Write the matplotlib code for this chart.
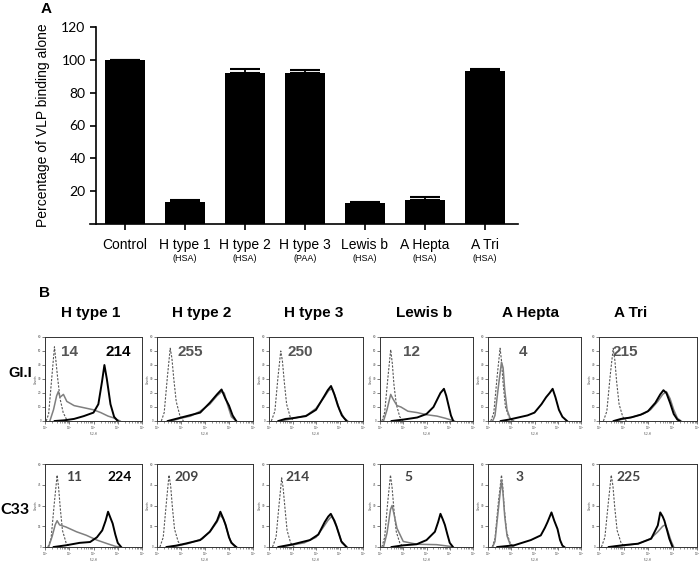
import numpy as np
import matplotlib
matplotlib.use("Agg")
import matplotlib.pyplot as plt
from matplotlib.ticker import LogLocator, NullFormatter, FixedLocator

# ---------------- panel A data ----------------
categories = ["Control", "H type 1", "H type 2", "H type 3", "Lewis b", "A Hepta", "A Tri"]
carriers = ["", "(HSA)", "(HSA)", "(PAA)", "(HSA)", "(HSA)", "(HSA)"]
binding = [100, 13.5, 91.8, 92.2, 12.9, 14.7, 93.3]
binding_err = [0, 1.0, 2.5, 1.5, 0.4, 1.6, 1.2]

# ---------------- panel B data ----------------
glycans = ["H type 1", "H type 2", "H type 3", "Lewis b", "A Hepta", "A Tri"]
strains = ["GI.I", "C33"]
gi_numbers = ["14", "255", "250", "12", "4", "215"]
c33_numbers = ["11", "209", "214", "5", "3", "225"]
# second (black) number only in the H type 1 panels
gi_extra = "214"
c33_extra = "224"

# curves: (log10 FL2-H, counts)
gi_dash = [
    [(0.05, 0), (0.15, 5), (0.27, 29), (0.39, 53), (0.45, 43), (0.52, 31), (0.62, 16), (0.75, 6), (0.92, 0)],
    [(0.18, 0), (0.3, 6), (0.43, 31), (0.55, 52), (0.62, 45), (0.7, 30), (0.8, 14), (0.95, 4), (1.1, 0)],
    [(0.1, 0), (0.25, 7), (0.38, 31), (0.5, 50), (0.57, 43), (0.65, 28), (0.75, 12), (0.9, 3), (1.05, 0)],
    [(0.08, 0), (0.2, 6), (0.34, 31), (0.46, 51), (0.53, 41), (0.6, 26), (0.7, 12), (0.85, 3), (1.0, 0)],
    [(0.12, 0), (0.25, 6), (0.4, 33), (0.52, 52), (0.58, 43), (0.65, 27), (0.75, 10), (0.9, 3), (1.05, 0)],
    [(0.18, 0), (0.32, 7), (0.46, 33), (0.58, 52), (0.65, 43), (0.72, 28), (0.82, 12), (0.97, 3), (1.12, 0)],
]
gi_gray = [
    [(0.2, 0), (0.35, 8), (0.48, 18), (0.55, 21), (0.62, 17), (0.76, 19), (0.9, 14), (1.2, 11), (1.6, 9.5),
     (2.0, 8), (2.3, 6), (2.6, 3.5), (2.8, 2.4), (3.1, 0)],
    [(0.6, 0), (1.0, 2), (1.4, 3.5), (1.8, 7), (2.2, 12), (2.5, 18), (2.7, 21), (2.8, 20), (2.95, 11), (3.1, 3), (3.3, 0)],
    [(0.5, 0), (0.8, 1), (1.2, 2.5), (1.6, 4), (2.0, 9), (2.35, 17), (2.55, 22), (2.7, 23), (2.85, 16), (3.0, 8),
     (3.2, 2), (3.35, 0)],
    [(0.15, 0), (0.3, 8), (0.46, 19), (0.55, 16), (0.73, 11), (0.9, 10), (1.2, 7), (1.6, 6), (2.0, 4.5), (2.45, 3.5),
     (2.8, 2), (3.0, 1), (3.2, 0)],
    [(0.2, 0), (0.3, 4), (0.45, 25), (0.58, 42), (0.65, 38), (0.72, 22), (0.82, 8), (0.95, 2), (1.1, 0)],
    [(0.7, 0), (1.0, 1.5), (1.4, 3), (1.8, 5), (2.1, 8), (2.4, 14), (2.6, 19), (2.75, 21), (2.9, 16), (3.05, 8),
     (3.2, 2), (3.35, 0)],
]
gi_black = [
    [(0.4, 0), (0.8, 0.5), (1.2, 1.5), (1.6, 3.5), (2.0, 6), (2.2, 12), (2.35, 28), (2.45, 40), (2.55, 30), (2.7, 12),
     (2.85, 3), (3.0, 0)],
    [(0.45, 0), (0.9, 2), (1.24, 3.5), (1.8, 6), (2.2, 13), (2.5, 19), (2.69, 22.5), (2.85, 16), (3.0, 11), (3.15, 4),
     (3.3, 0)],
    [(0.4, 0), (0.7, 1.5), (1.0, 2), (1.57, 3.5), (2.0, 8), (2.36, 18), (2.5, 22), (2.64, 25), (2.78, 19), (2.93, 11),
     (3.1, 4), (3.3, 0)],
    [(0.5, 0), (1.0, 1), (1.6, 2.5), (2.0, 5), (2.3, 10), (2.45, 15), (2.6, 20), (2.75, 23), (2.85, 18), (2.95, 11),
     (3.05, 4), (3.15, 0)],
    [(0.55, 0), (0.9, 1), (1.3, 2.5), (1.7, 4), (2.0, 6), (2.3, 12), (2.5, 17), (2.65, 20), (2.78, 23), (2.9, 17),
     (3.05, 8), (3.2, 3), (3.4, 0)],
    [(0.6, 0), (0.9, 1.5), (1.3, 2.5), (1.7, 4.5), (2.0, 7), (2.3, 13), (2.5, 19), (2.63, 22), (2.75, 20), (2.9, 13),
     (3.05, 5), (3.2, 1), (3.3, 0)],
]
c33_dash = [
    [(0.12, 0), (0.25, 6), (0.38, 31), (0.5, 52), (0.56, 43), (0.63, 28), (0.72, 12), (0.87, 3), (1.02, 0)],
    [(0.12, 0), (0.26, 7), (0.39, 32), (0.5, 52), (0.57, 44), (0.64, 29), (0.73, 13), (0.88, 4), (1.04, 0)],
    [(0.15, 0), (0.3, 7), (0.43, 31), (0.54, 50), (0.6, 43), (0.68, 28), (0.77, 12), (0.92, 3), (1.07, 0)],
    [(0.08, 0), (0.2, 7), (0.33, 32), (0.45, 52), (0.52, 43), (0.6, 27), (0.7, 11), (0.85, 3), (1.0, 0)],
    [(0.18, 0), (0.3, 6), (0.45, 33), (0.58, 52), (0.63, 45), (0.7, 28), (0.8, 11), (0.95, 3), (1.1, 0)],
    [(0.1, 0), (0.24, 7), (0.38, 32), (0.5, 52), (0.57, 44), (0.64, 29), (0.74, 12), (0.9, 3), (1.05, 0)],
]
c33_gray = [
    [(0.15, 0), (0.3, 8), (0.42, 16), (0.5, 19), (0.6, 16), (0.86, 14.5), (1.3, 11), (1.7, 8.5), (2.14, 5),
     (2.57, 2.4), (2.9, 0.5), (3.1, 0)],
    [(0.5, 0), (0.9, 1), (1.3, 2.5), (1.9, 6), (2.25, 12), (2.5, 18), (2.64, 23), (2.78, 20), (2.9, 13), (3.05, 5),
     (3.2, 1), (3.3, 0)],
    [(0.5, 0), (1.0, 1.5), (1.5, 3), (2.0, 7), (2.3, 14), (2.5, 19), (2.65, 22), (2.8, 19), (2.95, 11), (3.1, 3), (3.3, 0)],
    [(0.15, 0), (0.3, 10), (0.45, 27), (0.52, 30), (0.6, 24), (0.73, 13.5), (1.0, 4), (1.58, 2), (2.43, 1.7),
     (3.0, 0.5), (3.1, 0)],
    [(0.2, 0), (0.3, 4), (0.45, 28), (0.58, 48), (0.64, 40), (0.72, 22), (0.82, 8), (0.95, 2), (1.1, 0)],
    [(0.5, 0), (1.0, 1), (1.6, 2.4), (2.1, 6), (2.4, 11), (2.6, 15), (2.7, 16), (2.8, 12), (2.95, 4), (3.05, 0)],
]
c33_black = [
    [(0.36, 0), (0.86, 1.2), (1.43, 3), (1.86, 3.6), (2.14, 7), (2.36, 12), (2.5, 19), (2.6, 25.5), (2.7, 21),
     (2.79, 17), (2.9, 9), (3.0, 3), (3.14, 0)],
    [(0.4, 0), (0.8, 1), (1.2, 2.5), (1.8, 5), (2.2, 11), (2.5, 19), (2.64, 25.5), (2.75, 21), (2.86, 16), (3.0, 7),
     (3.1, 3), (3.3, 0)],
    [(0.4, 0), (1.03, 2), (1.74, 5), (2.1, 9), (2.37, 18), (2.52, 22), (2.63, 24), (2.75, 20), (2.87, 15), (3.08, 4),
     (3.3, 0)],
    [(0.5, 0), (1.0, 1.2), (1.58, 2), (2.0, 5), (2.36, 11), (2.5, 18), (2.6, 24), (2.7, 20), (2.79, 16), (2.9, 9),
     (3.0, 3), (3.14, 0)],
    [(0.4, 0), (1.12, 1.2), (1.84, 5), (2.27, 8.4), (2.45, 14), (2.56, 18), (2.73, 25), (2.85, 19), (2.99, 13),
     (3.1, 5), (3.2, 1), (3.28, 0)],
    [(0.4, 0), (0.93, 1.2), (1.6, 2.4), (2.13, 6), (2.4, 15.6), (2.5, 25), (2.6, 22), (2.67, 19), (2.78, 12),
     (2.87, 6), (3.0, 0)],
]

W, H = 700, 562


def box(l, t, r, b):
    return [l / W, 1 - b / H, (r - l) / W, (b - t) / H]


fig = plt.figure(figsize=(7, 5.62), dpi=100)

# ---------------- Panel A ----------------
ax = fig.add_axes(box(90, 27, 518, 224))
x = np.arange(len(categories))
ax.bar(x, binding, width=0.68, color="black")
ax.errorbar(x, binding, yerr=[np.zeros(len(x)), binding_err], fmt="none", ecolor="black",
            elinewidth=1.3, capsize=11, capthick=1.5)
ax.set_xlim(-0.583, 6.55)
ax.set_ylim(0, 120)
ax.spines["top"].set_visible(False)
ax.spines["right"].set_visible(False)
ax.spines["left"].set_position(("data", -0.483))
ax.spines["left"].set_linewidth(1.2)
ax.spines["bottom"].set_linewidth(1.2)
ax.set_yticks([20, 40, 60, 80, 100, 120])
ax.tick_params(axis="y", length=4, width=1.2, labelsize=10)
for lab in ax.get_yticklabels():
    lab.set_family("Lato")
ax.set_xticks(x)
ax.set_xticklabels([])
ax.tick_params(axis="x", length=4, width=1.2)
for i in range(len(categories)):
    ax.text(x[i], -0.107, categories[i], transform=ax.get_xaxis_transform(), ha="center", va="center",
            fontsize=10, family="Liberation Sans")
    if carriers[i]:
        ax.text(x[i], -0.175, carriers[i], transform=ax.get_xaxis_transform(), ha="center", va="center",
                fontsize=6.5, family="Liberation Sans")
ax.set_ylabel("Percentage of VLP binding alone", fontsize=10, family="Liberation Sans", labelpad=8)

fig.text(46 / W, 1 - 9 / H, "A", fontsize=11, fontweight="bold", family="Liberation Sans", ha="center", va="center")
fig.text(45 / W, 1 - 293 / H, "B", fontsize=11, fontweight="bold", family="Liberation Sans", ha="center", va="center")

# ---------------- Panel B ----------------
col_left = [45, 157, 269, 380, 488, 599]
col_right = [142, 253, 363, 473, 581, 697]
row_top = [337, 464]
row_bottom = [421, 547]
row_yticks = [[0, 10, 20, 30, 40, 50, 60], [0, 15, 30, 45, 60]]
header_x = [91, 202, 314, 424, 530, 631]
gi_num_x = [70, 190, 300, 412, 523, 625]
c33_num_x = [74, 187, 298, 408, 520, 629]
num_y = [352, 477]

for j, name in enumerate(glycans):
    fig.text(header_x[j] / W, 1 - 313 / H, name, fontsize=11, fontweight="bold", family="Liberation Sans",
             ha="center", va="center")

fig.text(20 / W, 1 - 373 / H, strains[0], fontsize=10.5, fontweight="bold", family="Liberation Sans",
         ha="center", va="center")
fig.text(15 / W, 1 - 510 / H, strains[1], fontsize=11.5, fontweight="bold", family="Lato",
         ha="center", va="center")

rows = [(gi_dash, gi_gray, gi_black), (c33_dash, c33_gray, c33_black)]
for r in range(2):
    dash, gray, black = rows[r]
    for j in range(6):
        hx = fig.add_axes(box(col_left[j], row_top[r], col_right[j], row_bottom[r]))
        for curve, style in ((dash, dict(color="#555555", lw=0.8, ls=(0, (2, 1.3)))),
                             (gray, dict(color="#7f7f7f", lw=1.1)),
                             (black, dict(color="black", lw=1.4))):
            pts = np.array(curve[j])
            hx.plot(10 ** pts[:, 0], pts[:, 1], **style)
        hx.set_xscale("log")
        hx.set_xlim(1, 1e4)
        hx.set_ylim(0, 60)
        hx.xaxis.set_major_locator(LogLocator(base=10, numticks=10))
        hx.xaxis.set_minor_locator(LogLocator(base=10, subs=np.arange(2, 10), numticks=10))
        hx.xaxis.set_minor_formatter(NullFormatter())
        hx.yaxis.set_major_locator(FixedLocator(row_yticks[r]))
        hx.tick_params(axis="both", which="major", length=2, width=0.5, labelsize=2, pad=0.6, color="#444444",
                       labelcolor="#444444")
        hx.tick_params(axis="x", which="minor", length=1.2, width=0.4, color="#444444")
        hx.set_xlabel("FL2-H", fontsize=2, labelpad=0.2, color="#444444")
        hx.set_ylabel("Counts", fontsize=2, labelpad=0.3, color="#444444")
        for s in hx.spines.values():
            s.set_linewidth(0.7)
            s.set_color("#333333")

        if r == 0:
            fig.text(gi_num_x[j] / W, 1 - num_y[r] / H, gi_numbers[j], fontsize=11, fontweight="bold",
                     family="Liberation Sans", color="#555555", ha="center", va="center")
        else:
            fig.text(c33_num_x[j] / W, 1 - num_y[r] / H, c33_numbers[j], fontsize=10, fontweight="bold",
                     family="Lato", color="#444444", ha="center", va="center")

fig.text(118 / W, 1 - num_y[0] / H, gi_extra, fontsize=11, fontweight="bold", family="Liberation Sans",
         color="black", ha="center", va="center")
fig.text(120 / W, 1 - num_y[1] / H, c33_extra, fontsize=10, fontweight="bold", family="Lato",
         color="black", ha="center", va="center")

fig.savefig("out.png", dpi=100)
